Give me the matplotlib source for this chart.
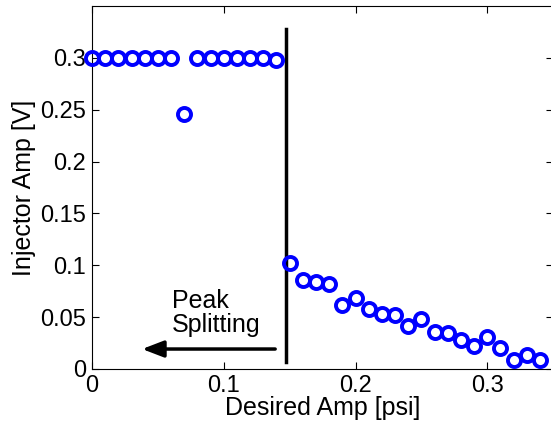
import matplotlib
matplotlib.use("Agg")
import matplotlib.pyplot as plt

plt.rcParams["font.family"] = ["Liberation Sans", "DejaVu Sans"]

# desired amplitude [psi] and the injector amplitude [V] it needed
desired_amp = [0.00, 0.01, 0.02, 0.03, 0.04, 0.05, 0.06, 0.07, 0.08, 0.09,
               0.10, 0.11, 0.12, 0.13, 0.14, 0.15, 0.16, 0.17, 0.18, 0.19,
               0.20, 0.21, 0.22, 0.23, 0.24, 0.25, 0.26, 0.27, 0.28, 0.29,
               0.30, 0.31, 0.32, 0.33, 0.34]
injector_amp = [0.300, 0.300, 0.300, 0.300, 0.300, 0.300, 0.300, 0.246, 0.300, 0.300,
                0.300, 0.300, 0.300, 0.300, 0.298, 0.102, 0.086, 0.084, 0.082, 0.062,
                0.068, 0.058, 0.053, 0.052, 0.041, 0.048, 0.036, 0.035, 0.028, 0.022,
                0.031, 0.020, 0.009, 0.013, 0.009]

xticks = [0, 0.1, 0.2, 0.3]
xtick_labels = ["0", "0.1", "0.2", "0.3"]
yticks = [0, 0.05, 0.1, 0.15, 0.2, 0.25, 0.3]
ytick_labels = ["0", "0.05", "0.1", "0.15", "0.2", "0.25", "0.3"]

split_x = 0.1473  # where the peak splitting starts

fig = plt.figure(figsize=(5.51, 4.28), dpi=100)
ax = fig.add_axes([0.167, 0.138, 0.837, 0.848])

ax.plot(desired_amp, injector_amp, "o", color="#0000ff", markerfacecolor="none",
        markersize=9.4, markeredgewidth=2.8, clip_on=False, zorder=3)

# vertical split marker and the arrow
ax.plot([split_x, split_x], [0.007, 0.328], color="black", linewidth=2.5)
ax.annotate("", xy=(0.038, 0.0192), xytext=(0.139, 0.0192),
            arrowprops=dict(arrowstyle="-|>,head_length=1.3,head_width=0.5",
                            color="black", linewidth=2.5, shrinkA=0, shrinkB=0))
ax.text(0.0607, 0.054, "Peak\nSplitting", fontsize=18, ha="left", va="center",
        multialignment="left", linespacing=1.0)

ax.set_xlim(0, 0.35)
ax.set_ylim(0, 0.35)
ax.set_xticks(xticks)
ax.set_xticklabels(xtick_labels)
ax.set_yticks(yticks)
ax.set_yticklabels(ytick_labels)
ax.tick_params(direction="in", top=True, right=True, labelsize=17, length=5,
               width=0.8, pad=4.5)
ax.set_xlabel("Desired Amp [psi]", fontsize=18, labelpad=-1)
ax.set_ylabel("Injector Amp [V]", fontsize=18, labelpad=3)

fig.savefig("out.png", dpi=100)
